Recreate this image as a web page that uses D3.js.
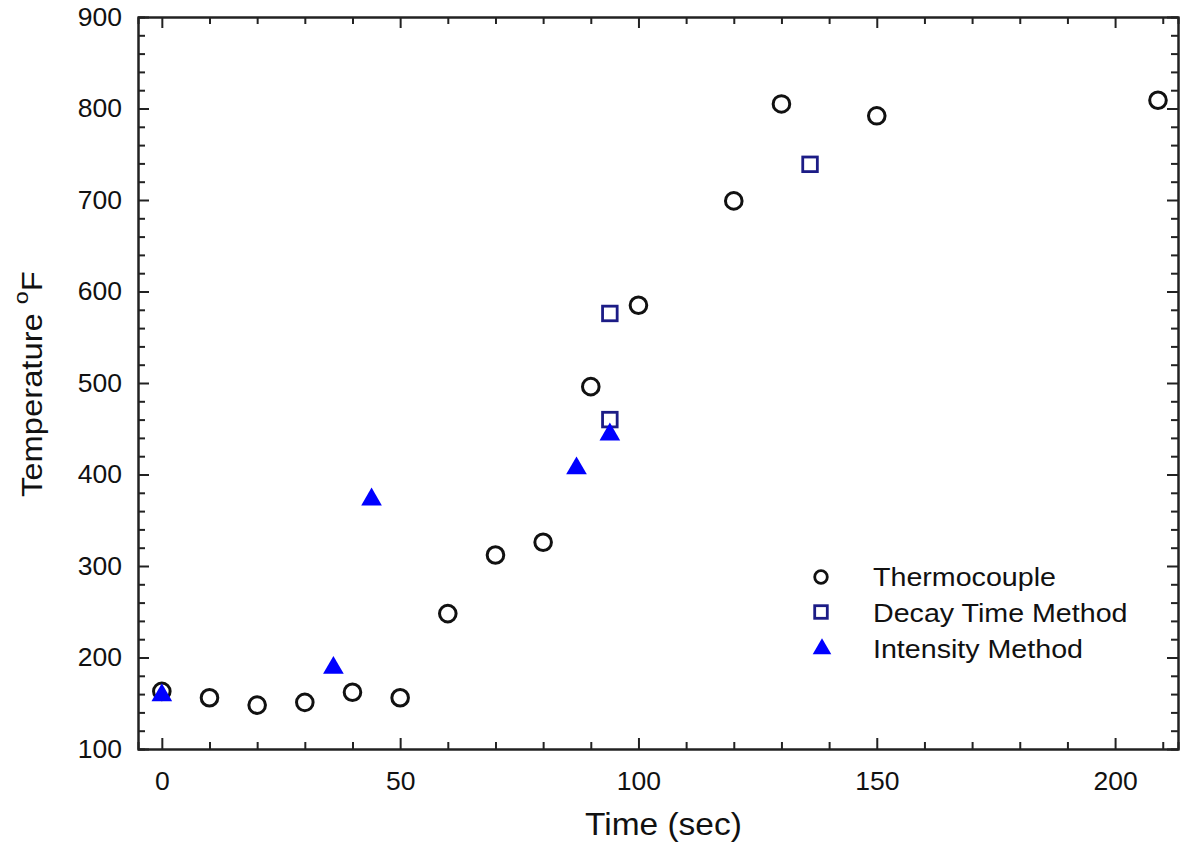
<!DOCTYPE html>
<html>
<head>
<meta charset="utf-8">
<script src="https://cdn.jsdelivr.net/npm/d3@7"></script>
<style>
  body { margin: 0; background: #fff; }
  text { font-family: "Liberation Sans", Arial, sans-serif; }
</style>
</head>
<body>
<div id="chart"></div>
<script>
var svgWidth = 1182;
var svgHeight = 862;

// data
var thermoTime = [0, 10, 20, 30, 40, 50, 60, 70, 80, 90, 100, 120, 130, 150, 209];
var thermoTemp = [163, 156, 148, 151, 162, 156, 248, 312, 326, 496, 585, 699, 805, 792, 809];
var decayTime = [94, 94, 136];
var decayTemp = [576, 460, 739];
var intensityTime = [0, 36, 44, 87, 94];
var intensityTemp = [162, 192, 376, 410, 447];
var seriesNames = ["Thermocouple", "Decay Time Method", "Intensity Method"];
var xTicks = [0, 50, 100, 150, 200];
var yTicks = [100, 200, 300, 400, 500, 600, 700, 800, 900];

var plot = {left: 138, right: 1178, top: 17, bottom: 749};

var svg = d3.select("#chart")
    .append("svg")
    .attr("width", svgWidth)
    .attr("height", svgHeight);

var xScale = d3.scaleLinear()
    .domain([-5, 213.2])
    .range([plot.left, plot.right]);
var yScale = d3.scaleLinear()
    .domain([100, 900])
    .range([plot.bottom, plot.top]);

var xMinor = d3.range(0, 214, 10).filter(d => d % 50 !== 0);
var yMinor = d3.range(100, 901, 20).filter(d => d % 100 !== 0);

function styleAxis(g) {
    g.select(".domain").attr("stroke", "#222").attr("stroke-width", 2);
    g.selectAll(".tick line").attr("stroke", "#222").attr("stroke-width", 2);
    g.selectAll(".tick text")
        .attr("fill", "#111")
        .style("font-size", "26.5px");
}

// bottom
var xAxisG = svg.append("g")
    .attr("transform", "translate(0," + plot.bottom + ")")
    .call(d3.axisBottom(xScale).tickValues(xTicks).tickSizeInner(-11).tickSizeOuter(0).tickPadding(22));
styleAxis(xAxisG);
var xMinorG = svg.append("g")
    .attr("transform", "translate(0," + plot.bottom + ")")
    .call(d3.axisBottom(xScale).tickValues(xMinor).tickSize(-7).tickFormat(""));
styleAxis(xMinorG);

// top
var xTopG = svg.append("g")
    .attr("transform", "translate(0," + plot.top + ")")
    .call(d3.axisTop(xScale).tickValues(xTicks).tickSizeInner(-11).tickSizeOuter(0).tickFormat(""));
styleAxis(xTopG);
var xTopMinorG = svg.append("g")
    .attr("transform", "translate(0," + plot.top + ")")
    .call(d3.axisTop(xScale).tickValues(xMinor).tickSize(-7).tickFormat(""));
styleAxis(xTopMinorG);

// left
var yAxisG = svg.append("g")
    .attr("transform", "translate(" + plot.left + ",0)")
    .call(d3.axisLeft(yScale).tickValues(yTicks).tickSizeInner(-11).tickSizeOuter(0).tickPadding(16));
styleAxis(yAxisG);
var yMinorG = svg.append("g")
    .attr("transform", "translate(" + plot.left + ",0)")
    .call(d3.axisLeft(yScale).tickValues(yMinor).tickSize(-7).tickFormat(""));
styleAxis(yMinorG);

// right
var yRightG = svg.append("g")
    .attr("transform", "translate(" + plot.right + ",0)")
    .call(d3.axisRight(yScale).tickValues(yTicks).tickSizeInner(-11).tickSizeOuter(0).tickFormat(""));
styleAxis(yRightG);
var yRightMinorG = svg.append("g")
    .attr("transform", "translate(" + plot.right + ",0)")
    .call(d3.axisRight(yScale).tickValues(yMinor).tickSize(-7).tickFormat(""));
styleAxis(yRightMinorG);

// axis titles (the original lettering is a little stretched sideways)
svg.append("text")
    .attr("transform", "translate(585,835) scale(1.08,1)")
    .attr("fill", "#111")
    .style("font-size", "31px")
    .text("Time (sec)");

var yTitle = svg.append("text")
    .attr("transform", "translate(42,497) rotate(-90) scale(1.11,1)")
    .attr("fill", "#111")
    .style("font-size", "29.5px");
yTitle.append("tspan").text("Temperature ");
yTitle.append("tspan").attr("dy", -14).style("font-size", "21px").text("o");
yTitle.append("tspan").attr("dy", 14).text("F");

// marks
var thermoData = thermoTime.map((t, i) => [t, thermoTemp[i]]);
var decayData = decayTime.map((t, i) => [t, decayTemp[i]]);
var intensityData = intensityTime.map((t, i) => [t, intensityTemp[i]]);

var triangle = d3.symbol().type(d3.symbolTriangle).size(185);
var smallTriangle = d3.symbol().type(d3.symbolTriangle).size(150);

svg.append("g").selectAll("circle")
    .data(thermoData)
    .enter()
    .append("circle")
    .attr("cx", d => xScale(d[0]))
    .attr("cy", d => yScale(d[1]))
    .attr("r", 8.3)
    .attr("fill", "none")
    .attr("stroke", "#111")
    .attr("stroke-width", 3);

svg.append("g").selectAll("rect")
    .data(decayData)
    .enter()
    .append("rect")
    .attr("x", d => xScale(d[0]) - 7.3)
    .attr("y", d => yScale(d[1]) - 7.3)
    .attr("width", 14.6)
    .attr("height", 14.6)
    .attr("fill", "none")
    .attr("stroke", "#1c1c86")
    .attr("stroke-width", 2.8);

svg.append("g").selectAll("path")
    .data(intensityData)
    .enter()
    .append("path")
    .attr("d", triangle)
    .attr("transform", d => "translate(" + xScale(d[0]) + "," + (yScale(d[1]) + 3) + ")")
    .attr("fill", "#0000ff");

// legend
var legend = svg.append("g").attr("transform", "translate(821,577)");
var rowGap = 35;
legend.append("circle")
    .attr("cx", 0).attr("cy", 0).attr("r", 6.3)
    .attr("fill", "none").attr("stroke", "#111").attr("stroke-width", 2.8);
legend.append("rect")
    .attr("x", -6.3).attr("y", rowGap - 6.3).attr("width", 12.6).attr("height", 12.6)
    .attr("fill", "none").attr("stroke", "#1c1c86").attr("stroke-width", 2.8);
legend.append("path")
    .attr("d", smallTriangle)
    .attr("transform", "translate(1," + (2 * rowGap + 2) + ")")
    .attr("fill", "#0000ff");
legend.selectAll("text.lbl")
    .data(seriesNames)
    .enter()
    .append("text")
    .attr("class", "lbl")
    .attr("transform", (d, i) => "translate(52," + (i * 36 + 9) + ") scale(1.08,1)")
    .attr("fill", "#111")
    .style("font-size", "26.5px")
    .text(d => d);
</script>
</body>
</html>
